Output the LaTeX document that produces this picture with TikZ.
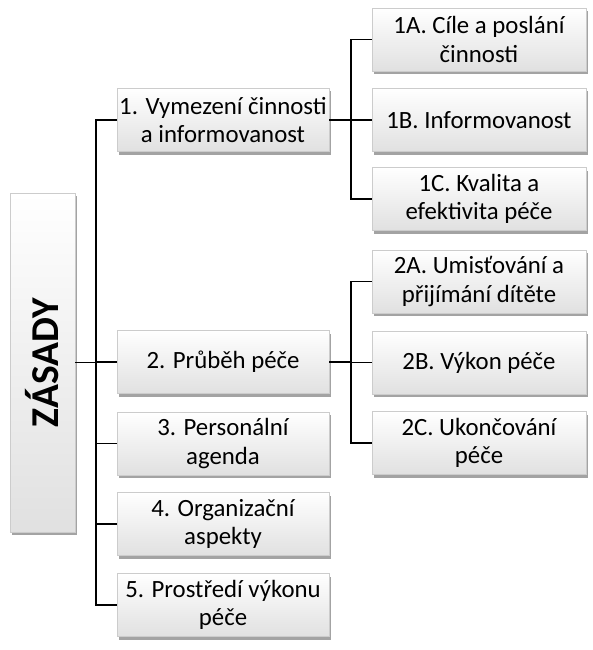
\documentclass[tikz,border=0pt]{standalone}
\usepackage{fontspec}
\setmainfont{Carlito}
\usetikzlibrary{shadows}
\tikzset{
  card/.style={draw=black!20, top color=white, bottom color=black!12,
    drop shadow={shadow xshift=2pt, shadow yshift=-3pt, fill=black!60, opacity=0.6},
    minimum width=212pt, minimum height=63pt, inner sep=0pt, align=center,
    font=\fontsize{24.8}{28.5}\selectfont},
  branch/.style={line width=1.6pt, black}
}
\begin{document}
\begin{tikzpicture}[x=1pt, y=-1pt]
  \useasboundingbox (0,0) rectangle (593,650);
  % root box on the left
  \node[card, minimum width=65pt, minimum height=339pt] (zas) at (42.5,362.5)
    {\rotatebox{90}{\fontsize{39.5}{42}\selectfont\bfseries ZÁSADY}};

  % first level
  \node[card] (p1) at (223,120) {1. Vymezení činnosti\\a informovanost};
  \node[card] (p2) at (223,362) {2. Průběh péče};
  \node[card] (p3) at (223,443.5) {3. Personální\\agenda};
  \node[card] (p4) at (223,524) {4. Organizační\\aspekty};
  \node[card] (p5) at (223,605) {5. Prostředí výkonu\\péče};

  % second level
  \node[card, minimum width=214pt] (p1a) at (479,39.5) {1A. Cíle a poslání\\činnosti};
  \node[card, minimum width=214pt] (p1b) at (479,120) {1B. Informovanost};
  \node[card, minimum width=214pt] (p1c) at (479,199) {1C. Kvalita a\\efektivita péče};
  \node[card, minimum width=214pt] (p2a) at (479,281.5) {2A. Umisťování a\\přijímání dítěte};
  \node[card, minimum width=214pt] (p2b) at (479,362.5) {2B. Výkon péče};
  \node[card, minimum width=214pt] (p2c) at (479,443) {2C. Ukončování\\péče};

  % elbow connectors
  \foreach \n in {p1,p2,p3,p4,p5}
    \draw[branch] (zas.east) -- ++(21,0) |- (\n.west);
  \foreach \n in {p1a,p1b,p1c}
    \draw[branch] (p1.east) -- ++(22,0) |- (\n.west);
  \foreach \n in {p2a,p2b,p2c}
    \draw[branch] (p2.east) -- ++(22,0) |- (\n.west);
\end{tikzpicture}
\end{document}
